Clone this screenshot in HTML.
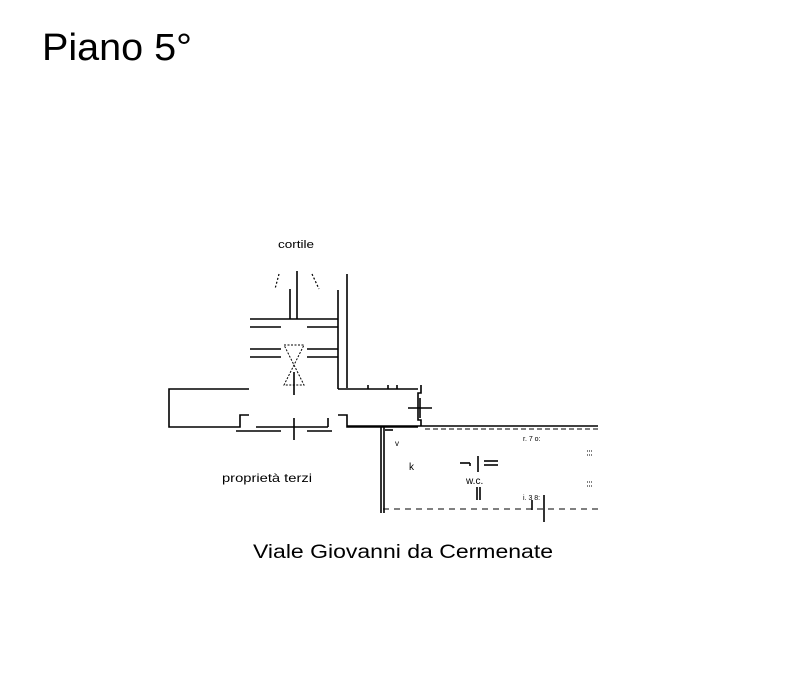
<!DOCTYPE html>
<html><head><meta charset="utf-8"><style>
html,body{margin:0;padding:0;background:#fff;}
svg{display:block}
text{font-family:"Liberation Sans",Arial,sans-serif;fill:#000}
</style></head><body>
<svg width="790" height="680" viewBox="0 0 790 680" xmlns="http://www.w3.org/2000/svg">
<text x="42" y="60" font-size="38" textLength="150" lengthAdjust="spacingAndGlyphs">Piano 5°</text>
<text x="278" y="248" font-size="11" textLength="36" lengthAdjust="spacingAndGlyphs">cortile</text>
<text x="222" y="482" font-size="12" textLength="90" lengthAdjust="spacingAndGlyphs">proprietà terzi</text>
<text x="253" y="558" font-size="19" textLength="300" lengthAdjust="spacingAndGlyphs">Viale Giovanni da Cermenate</text>
<text x="409" y="470" font-size="10">k</text>
<text x="466" y="484" font-size="10">w.c.</text>
<text x="395" y="446" font-size="8">v</text>
<text x="523" y="441" font-size="7">r. 7 o:</text>
<text x="523" y="500" font-size="7">i. 3 8:</text>
<g stroke="#000" stroke-width="1.6" fill="none">
<line x1="297" y1="271" x2="297" y2="319"/>
<line x1="290" y1="289" x2="290" y2="319"/>
<line x1="279" y1="274" x2="275" y2="289" stroke-dasharray="2,2" stroke-width="1.2"/>
<line x1="312" y1="274" x2="319" y2="289" stroke-dasharray="2,2" stroke-width="1.2"/>
<line x1="338" y1="290" x2="338" y2="389"/>
<line x1="347" y1="274" x2="347" y2="388"/>
<line x1="250" y1="319" x2="338" y2="319"/>
<line x1="250" y1="327" x2="281" y2="327"/><line x1="307" y1="327" x2="338" y2="327"/>
<line x1="250" y1="349" x2="281" y2="349"/><line x1="307" y1="349" x2="338" y2="349"/>
<line x1="250" y1="357" x2="281" y2="357"/><line x1="307" y1="357" x2="338" y2="357"/>
<path d="M284 345 L304 345 L284 385 L304 385 Z" stroke-dasharray="2,1.5" stroke-width="1"/>
<line x1="294" y1="372" x2="294" y2="395"/>
<polyline points="249,389 169,389 169,427 240,427 240,415 249,415"/>
<line x1="338" y1="389" x2="418" y2="389"/>
<line x1="256" y1="427" x2="328" y2="427"/>
<line x1="328" y1="418" x2="328" y2="427"/>
<line x1="236" y1="431" x2="281" y2="431"/>
<line x1="307" y1="431" x2="332" y2="431"/>
<line x1="294" y1="418" x2="294" y2="440"/>
<polyline points="338,415 347,415 347,427 418,427"/>
<polyline points="421,385 421,393 418,393 418,420 421,420 421,426"/>
<line x1="408" y1="408" x2="432" y2="408"/>
<line x1="420" y1="398" x2="420" y2="418"/>
<line x1="368" y1="385" x2="368" y2="389"/><line x1="388" y1="385" x2="388" y2="389"/><line x1="397" y1="385" x2="397" y2="389"/>
<line x1="347" y1="426" x2="598" y2="426"/>
<line x1="425" y1="429" x2="598" y2="429" stroke-dasharray="5,3" stroke-width="1"/>
<line x1="381" y1="427" x2="381" y2="513"/>
<line x1="384" y1="427" x2="384" y2="513"/>
<line x1="385" y1="430" x2="393" y2="430"/>
<line x1="383" y1="509" x2="598" y2="509" stroke-dasharray="6,5" stroke-width="1"/>
<line x1="460" y1="463" x2="470" y2="463"/><line x1="470" y1="463" x2="470" y2="466"/>
<line x1="478" y1="456" x2="478" y2="472"/>
<line x1="484" y1="461" x2="498" y2="461"/><line x1="484" y1="465" x2="498" y2="465"/>
<line x1="477" y1="487" x2="477" y2="500"/><line x1="480" y1="487" x2="480" y2="500"/>
<line x1="532" y1="500" x2="532" y2="510"/>
<line x1="544" y1="495" x2="544" y2="522"/>
<g stroke-width="1" stroke-dasharray="1,1">
<line x1="587" y1="451" x2="593" y2="451"/><line x1="587" y1="455" x2="593" y2="455"/>
<line x1="587" y1="482" x2="593" y2="482"/><line x1="587" y1="486" x2="593" y2="486"/>
</g>
</g>
</svg>
</body></html>
